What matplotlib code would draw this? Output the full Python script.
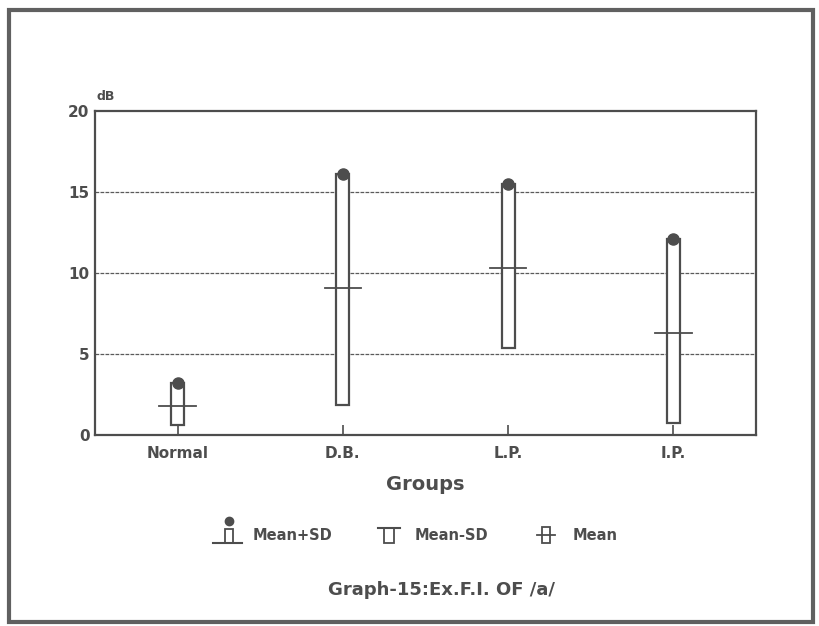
import matplotlib
matplotlib.use("Agg")
import matplotlib.pyplot as plt
from matplotlib.patches import Rectangle
from matplotlib.lines import Line2D

groups = ["Normal", "D.B.", "L.P.", "I.P."]
mean = [1.8, 9.1, 10.3, 6.3]
mean_plus_sd = [3.2, 16.1, 15.5, 12.1]
mean_minus_sd = [0.6, 1.85, 5.4, 0.75]
yticks = [0, 5, 10, 15, 20]

C = "#4d4d4d"
plt.rcParams["font.family"] = ["DejaVu Sans"]

fig = plt.figure(figsize=(8.2, 6.26), dpi=100)
ax = fig.add_axes([95/820, 1-435/626, 661/820, 324/626])

x = list(range(len(groups)))
bw = 0.08
for xi, m, hi, lo in zip(x, mean, mean_plus_sd, mean_minus_sd):
    ax.add_patch(Rectangle((xi - bw/2, lo), bw, hi - lo, facecolor="white",
                           edgecolor=C, lw=1.6, zorder=3))
    ax.plot([xi - 0.11, xi + 0.11], [m, m], color=C, lw=1.3, zorder=4)
ax.plot(x, mean_plus_sd, "o", color=C, ms=8, zorder=5)

ax.set_xlim(-0.5, 3.5)
ax.set_ylim(0, 20)
ax.set_yticks(yticks)
ax.set_xticks(x)
ax.set_xticklabels(groups)
for v in yticks[1:-1]:
    ax.axhline(v, color="#5a5a5a", lw=0.9, ls=(0, (3, 1)), zorder=1)
for s in ax.spines.values():
    s.set_color(C)
    s.set_linewidth(1.6)
ax.tick_params(axis="x", direction="in", length=7, width=1.2, color=C,
               pad=8, labelsize=11, labelcolor=C)
ax.tick_params(axis="y", length=0, pad=4, labelsize=11, labelcolor=C)
for lab in ax.get_xticklabels() + ax.get_yticklabels():
    lab.set_fontweight("bold")
ax.set_xlabel("Groups", fontsize=14, fontweight="bold", color=C, labelpad=10)
fig.text(97/820, 1-96/626, "dB", fontsize=9, fontweight="bold", color=C,
         ha="left", va="center")

# legend symbols (figure pixel coords converted)
def fx(px):
    return px / 820
def fy(py):
    return 1 - py / 626

# Mean+SD symbol
fig.add_artist(Line2D([fx(213), fx(242)], [fy(543), fy(543)], color=C, lw=1.5))
fig.add_artist(Rectangle((fx(225), fy(543)), fx(8), 14/626, facecolor="white",
                         edgecolor=C, lw=1.3))
fig.add_artist(Line2D([fx(229)], [fy(521)], marker="o", ms=6, color=C))
fig.text(fx(253), fy(535), "Mean+SD", fontsize=10.5, fontweight="bold",
         color=C, ha="left", va="center")
# Mean-SD symbol
fig.add_artist(Line2D([fx(378), fx(400)], [fy(528), fy(528)], color=C, lw=1.5))
fig.add_artist(Rectangle((fx(384), fy(543)), fx(10), 15/626, facecolor="white",
                         edgecolor=C, lw=1.3))
fig.text(fx(415), fy(535), "Mean-SD", fontsize=10.5, fontweight="bold",
         color=C, ha="left", va="center")
# Mean symbol
fig.add_artist(Rectangle((fx(542), fy(543)), fx(8), 16/626, facecolor="white",
                         edgecolor=C, lw=1.3))
fig.add_artist(Line2D([fx(537), fx(555)], [fy(535), fy(535)], color=C, lw=1.3))
fig.text(fx(573), fy(535), "Mean", fontsize=10.5, fontweight="bold",
         color=C, ha="left", va="center")

fig.text(fx(442), fy(590), "Graph-15:Ex.F.I. OF /a/", fontsize=13,
         fontweight="bold", color=C, ha="center", va="center")

# outer frame
fig.add_artist(Rectangle((fx(9), fy(622)), fx(804), 612/626, fill=False,
                         edgecolor="#606060", lw=3))

fig.savefig("out.png", dpi=100)
